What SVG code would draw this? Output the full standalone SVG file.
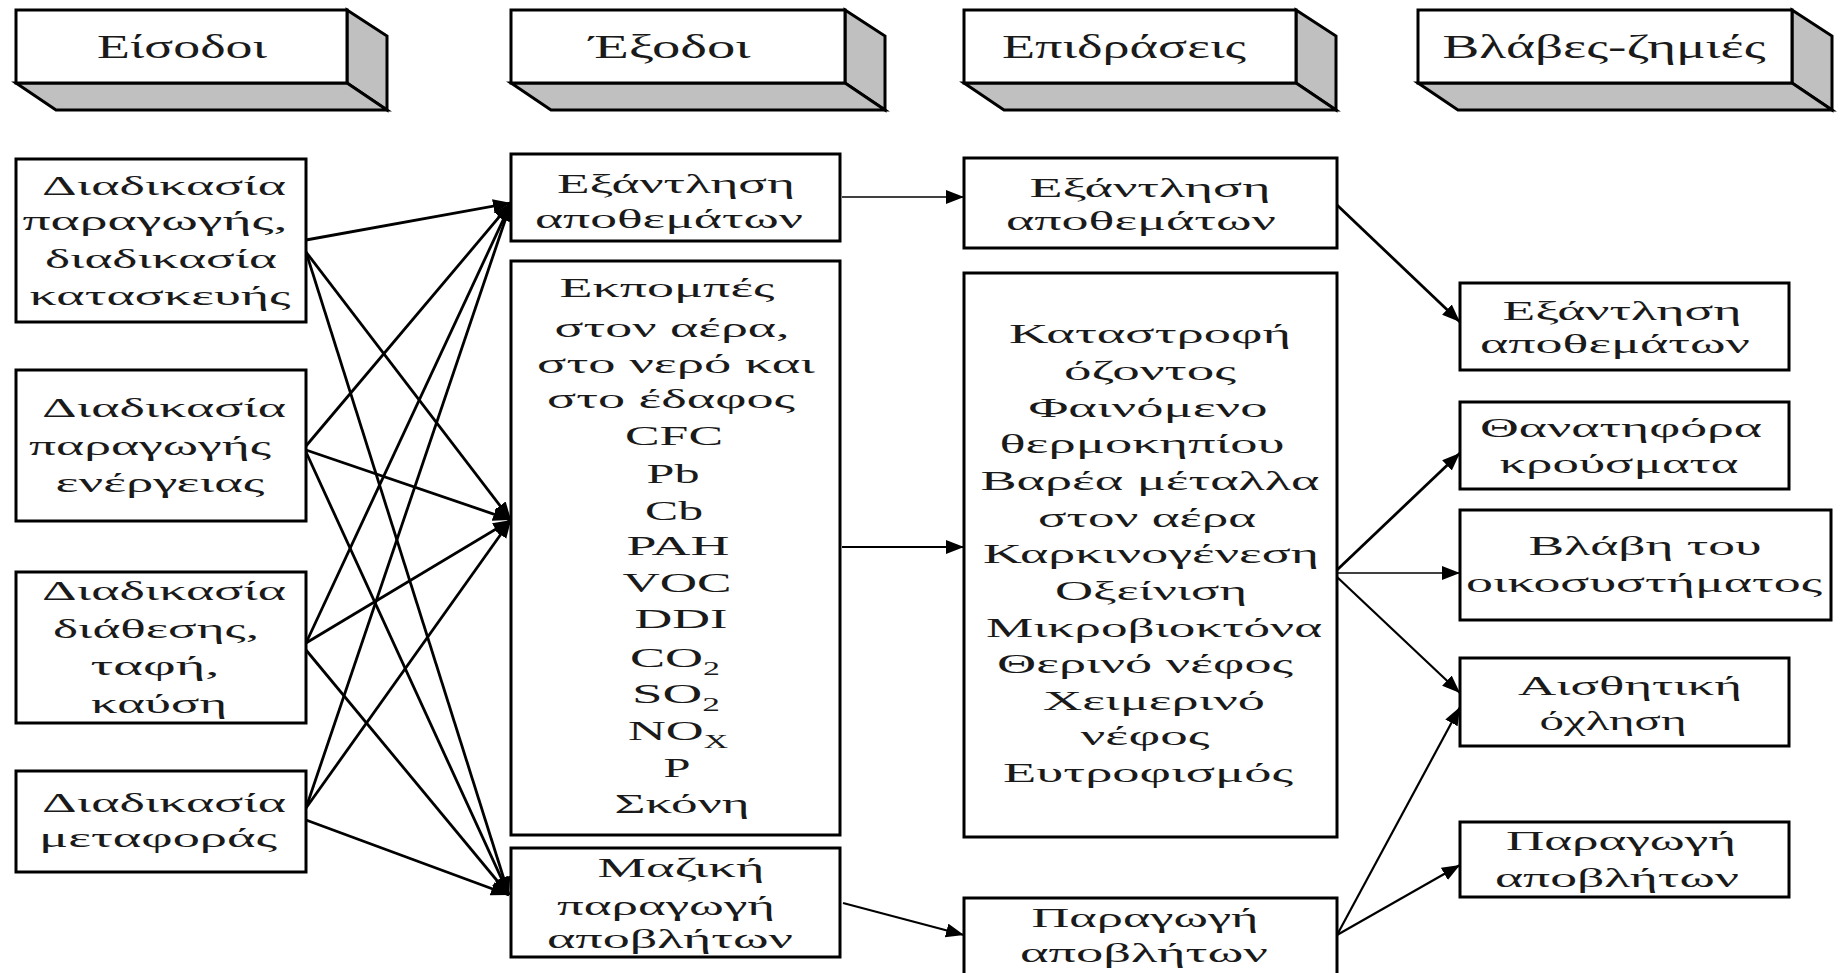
<svg xmlns="http://www.w3.org/2000/svg" width="1841" height="973" viewBox="0 0 1841 973">
<style>
.bg{fill:#ffffff}
.box{fill:#ffffff;stroke:#000;stroke-width:3}
.face{fill:#c0c0c0;stroke:#000;stroke-width:3;stroke-linejoin:miter}
.front{fill:#ffffff;stroke:#000;stroke-width:3}
text{font-family:"Liberation Serif","DejaVu Serif",serif;fill:#1a1a1a;text-anchor:middle}
.t{font-size:28px}
.h{font-size:33px}
.sub{font-size:18px}
.c{stroke:#000;fill:none;marker-end:url(#ah)}
.w1{stroke-width:1.6}
.w2{stroke-width:2.2}
.w3{stroke-width:2.8}
</style>
<defs>
<marker id="ah" markerUnits="userSpaceOnUse" markerWidth="20" markerHeight="16" refX="18" refY="7" orient="auto">
<path d="M0,0 L18,7 L0,14 z" fill="#000"/>
</marker>
</defs>
<rect class="bg" x="0" y="0" width="1841" height="973"/>

<g id="hdr-eisodoi">
<polygon class="face" points="347,10 387,36 387,110 347,83"/>
<polygon class="face" points="16,83 347,83 387,110 56,110"/>
<rect class="front" x="16" y="10" width="331" height="73"/>
<text class="h" x="182" y="58" textLength="170" lengthAdjust="spacingAndGlyphs">Είσοδοι</text>
</g>
<g id="hdr-exodoi">
<polygon class="face" points="845,10 885,36 885,110 845,83"/>
<polygon class="face" points="511,83 845,83 885,110 551,110"/>
<rect class="front" x="511" y="10" width="334" height="73"/>
<text class="h" x="670" y="58" textLength="161" lengthAdjust="spacingAndGlyphs">Έξοδοι</text>
</g>
<g id="hdr-epidraseis">
<polygon class="face" points="1296,10 1336,36 1336,110 1296,83"/>
<polygon class="face" points="964,83 1296,83 1336,110 1004,110"/>
<rect class="front" x="964" y="10" width="332" height="73"/>
<text class="h" x="1124" y="58" textLength="244" lengthAdjust="spacingAndGlyphs">Επιδράσεις</text>
</g>
<g id="hdr-vlaves">
<polygon class="face" points="1792,10 1832,36 1832,110 1792,83"/>
<polygon class="face" points="1418,83 1792,83 1832,110 1458,110"/>
<rect class="front" x="1418" y="10" width="374" height="73"/>
<text class="h" x="1604" y="58" textLength="323" lengthAdjust="spacingAndGlyphs">Βλάβες-ζημιές</text>
</g>

<g id="connectors">
<line class="c w3" x1="306" y1="240" x2="511" y2="203"/>
<line class="c w3" x1="306" y1="252" x2="511" y2="520"/>
<line class="c w3" x1="306" y1="252" x2="509" y2="895"/>
<line class="c w3" x1="306" y1="446" x2="511" y2="203"/>
<line class="c w3" x1="306" y1="450" x2="511" y2="520"/>
<line class="c w3" x1="306" y1="452" x2="509" y2="895"/>
<line class="c w3" x1="306" y1="643" x2="511" y2="203"/>
<line class="c w3" x1="306" y1="643" x2="511" y2="520"/>
<line class="c w3" x1="306" y1="650" x2="509" y2="895"/>
<line class="c w3" x1="306" y1="808" x2="511" y2="203"/>
<line class="c w3" x1="306" y1="808" x2="511" y2="520"/>
<line class="c w3" x1="306" y1="820" x2="509" y2="895"/>
<line class="c w1" x1="842" y1="197" x2="964" y2="197"/>
<line class="c w2" x1="842" y1="547" x2="964" y2="547"/>
<line class="c w2" x1="843" y1="903" x2="964" y2="935"/>
<line class="c w3" x1="1337" y1="205" x2="1460" y2="322"/>
<line class="c w3" x1="1337" y1="570" x2="1460" y2="453"/>
<line class="c w1" x1="1337" y1="573" x2="1460" y2="573"/>
<line class="c w2" x1="1337" y1="577" x2="1460" y2="693"/>
<line class="c w2" x1="1337" y1="935" x2="1460" y2="707"/>
<line class="c w2" x1="1337" y1="935" x2="1460" y2="865"/>
</g>

<g id="in-production">
<rect class="box" x="16" y="159" width="290" height="163"/>
<text class="t" x="164" y="195" textLength="244" lengthAdjust="spacingAndGlyphs">Διαδικασία</text>
<text class="t" x="155" y="230" textLength="265" lengthAdjust="spacingAndGlyphs">παραγωγής,</text>
<text class="t" x="161" y="268" textLength="232" lengthAdjust="spacingAndGlyphs">διαδικασία</text>
<text class="t" x="160" y="305" textLength="261" lengthAdjust="spacingAndGlyphs">κατασκευής</text>
</g>
<g id="in-energy">
<rect class="box" x="16" y="370" width="290" height="151"/>
<text class="t" x="164" y="417" textLength="244" lengthAdjust="spacingAndGlyphs">Διαδικασία</text>
<text class="t" x="150" y="455" textLength="242" lengthAdjust="spacingAndGlyphs">παραγωγής</text>
<text class="t" x="160" y="492" textLength="209" lengthAdjust="spacingAndGlyphs">ενέργειας</text>
</g>
<g id="in-disposal">
<rect class="box" x="16" y="572" width="290" height="151"/>
<text class="t" x="164" y="600" textLength="244" lengthAdjust="spacingAndGlyphs">Διαδικασία</text>
<text class="t" x="156" y="638" textLength="206" lengthAdjust="spacingAndGlyphs">διάθεσης,</text>
<text class="t" x="155" y="675" textLength="129" lengthAdjust="spacingAndGlyphs">ταφή,</text>
<text class="t" x="159" y="713" textLength="136" lengthAdjust="spacingAndGlyphs">καύση</text>
</g>
<g id="in-transport">
<rect class="box" x="16" y="771" width="290" height="101"/>
<text class="t" x="164" y="812" textLength="244" lengthAdjust="spacingAndGlyphs">Διαδικασία</text>
<text class="t" x="158" y="847" textLength="238" lengthAdjust="spacingAndGlyphs">μεταφοράς</text>
</g>

<g id="out-depletion">
<rect class="box" x="511" y="154" width="329" height="87"/>
<text class="t" x="676" y="193" textLength="238" lengthAdjust="spacingAndGlyphs">Εξάντληση</text>
<text class="t" x="669" y="228" textLength="268" lengthAdjust="spacingAndGlyphs">αποθεμάτων</text>
</g>
<g id="out-emissions">
<rect class="box" x="511" y="261" width="329" height="574"/>
<text class="t" x="667" y="297" textLength="215" lengthAdjust="spacingAndGlyphs">Εκπομπές</text>
<text class="t" x="672" y="337" textLength="235" lengthAdjust="spacingAndGlyphs">στον αέρα,</text>
<text class="t" x="676" y="373" textLength="278" lengthAdjust="spacingAndGlyphs">στο νερό και</text>
<text class="t" x="671" y="408" textLength="248" lengthAdjust="spacingAndGlyphs">στο έδαφος</text>
<text class="t" x="674" y="445" textLength="98" lengthAdjust="spacingAndGlyphs">CFC</text>
<text class="t" x="673" y="483" textLength="53" lengthAdjust="spacingAndGlyphs">Pb</text>
<text class="t" x="674" y="520" textLength="58" lengthAdjust="spacingAndGlyphs">Cb</text>
<text class="t" x="678" y="555" textLength="103" lengthAdjust="spacingAndGlyphs">PAH</text>
<text class="t" x="677" y="592" textLength="109" lengthAdjust="spacingAndGlyphs">VOC</text>
<text class="t" x="681" y="628" textLength="93" lengthAdjust="spacingAndGlyphs">DDI</text>
<text class="t" x="675" y="667" textLength="90" lengthAdjust="spacingAndGlyphs">CO<tspan class="sub" dy="8">2</tspan></text>
<text class="t" x="676" y="703" textLength="88" lengthAdjust="spacingAndGlyphs">SO<tspan class="sub" dy="8">2</tspan></text>
<text class="t" x="678" y="740" textLength="100" lengthAdjust="spacingAndGlyphs">NO<tspan class="sub" dy="8">X</tspan></text>
<text class="t" x="677" y="777" textLength="27" lengthAdjust="spacingAndGlyphs">P</text>
<text class="t" x="682" y="813" textLength="135" lengthAdjust="spacingAndGlyphs">Σκόνη</text>
</g>
<g id="out-waste">
<rect class="box" x="511" y="848" width="329" height="109"/>
<text class="t" x="681" y="877" textLength="167" lengthAdjust="spacingAndGlyphs">Μαζική</text>
<text class="t" x="666" y="915" textLength="218" lengthAdjust="spacingAndGlyphs">παραγωγή</text>
<text class="t" x="670" y="948" textLength="246" lengthAdjust="spacingAndGlyphs">αποβλήτων</text>
</g>

<g id="eff-depletion">
<rect class="box" x="964" y="158" width="373" height="90"/>
<text class="t" x="1150" y="197" textLength="241" lengthAdjust="spacingAndGlyphs">Εξάντληση</text>
<text class="t" x="1141" y="230" textLength="270" lengthAdjust="spacingAndGlyphs">αποθεμάτων</text>
</g>
<g id="eff-list">
<rect class="box" x="964" y="273" width="373" height="564"/>
<text class="t" x="1150" y="343" textLength="282" lengthAdjust="spacingAndGlyphs">Καταστροφή</text>
<text class="t" x="1150" y="380" textLength="172" lengthAdjust="spacingAndGlyphs">όζοντος</text>
<text class="t" x="1148" y="417" textLength="239" lengthAdjust="spacingAndGlyphs">Φαινόμενο</text>
<text class="t" x="1142" y="453" textLength="285" lengthAdjust="spacingAndGlyphs">θερμοκηπίου</text>
<text class="t" x="1150" y="490" textLength="339" lengthAdjust="spacingAndGlyphs">Βαρέα μέταλλα</text>
<text class="t" x="1147" y="527" textLength="218" lengthAdjust="spacingAndGlyphs">στον αέρα</text>
<text class="t" x="1151" y="563" textLength="336" lengthAdjust="spacingAndGlyphs">Καρκινογένεση</text>
<text class="t" x="1151" y="600" textLength="192" lengthAdjust="spacingAndGlyphs">Οξείνιση</text>
<text class="t" x="1154" y="637" textLength="336" lengthAdjust="spacingAndGlyphs">Μικροβιοκτόνα</text>
<text class="t" x="1145" y="673" textLength="296" lengthAdjust="spacingAndGlyphs">Θερινό νέφος</text>
<text class="t" x="1154" y="710" textLength="222" lengthAdjust="spacingAndGlyphs">Χειμερινό</text>
<text class="t" x="1145" y="745" textLength="129" lengthAdjust="spacingAndGlyphs">νέφος</text>
<text class="t" x="1148" y="782" textLength="290" lengthAdjust="spacingAndGlyphs">Ευτροφισμός</text>
</g>
<g id="eff-waste">
<rect class="box" x="964" y="898" width="373" height="90"/>
<text class="t" x="1145" y="927" textLength="227" lengthAdjust="spacingAndGlyphs">Παραγωγή</text>
<text class="t" x="1144" y="962" textLength="248" lengthAdjust="spacingAndGlyphs">αποβλήτων</text>
</g>

<g id="dmg-depletion">
<rect class="box" x="1460" y="283" width="329" height="87"/>
<text class="t" x="1622" y="320" textLength="239" lengthAdjust="spacingAndGlyphs">Εξάντληση</text>
<text class="t" x="1615" y="353" textLength="270" lengthAdjust="spacingAndGlyphs">αποθεμάτων</text>
</g>
<g id="dmg-fatal">
<rect class="box" x="1460" y="402" width="329" height="87"/>
<text class="t" x="1621" y="437" textLength="282" lengthAdjust="spacingAndGlyphs">Θανατηφόρα</text>
<text class="t" x="1619" y="473" textLength="239" lengthAdjust="spacingAndGlyphs">κρούσματα</text>
</g>
<g id="dmg-ecosystem">
<rect class="box" x="1460" y="510" width="371" height="110"/>
<text class="t" x="1645" y="555" textLength="233" lengthAdjust="spacingAndGlyphs">Βλάβη του</text>
<text class="t" x="1644" y="592" textLength="356" lengthAdjust="spacingAndGlyphs">οικοσυστήματος</text>
</g>
<g id="dmg-aesthetic">
<rect class="box" x="1460" y="658" width="329" height="88"/>
<text class="t" x="1630" y="695" textLength="224" lengthAdjust="spacingAndGlyphs">Αισθητική</text>
<text class="t" x="1613" y="730" textLength="147" lengthAdjust="spacingAndGlyphs">όχληση</text>
</g>
<g id="dmg-waste">
<rect class="box" x="1460" y="822" width="329" height="75"/>
<text class="t" x="1621" y="850" textLength="230" lengthAdjust="spacingAndGlyphs">Παραγωγή</text>
<text class="t" x="1617" y="887" textLength="244" lengthAdjust="spacingAndGlyphs">αποβλήτων</text>
</g>
</svg>
